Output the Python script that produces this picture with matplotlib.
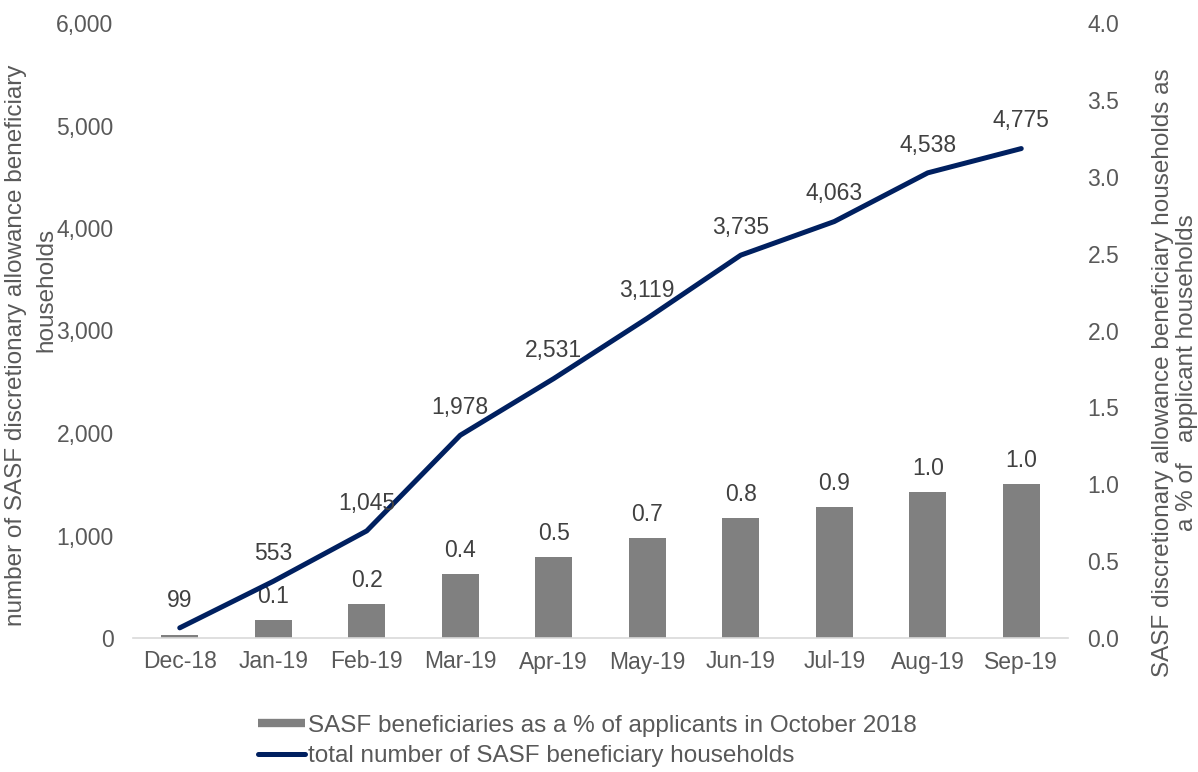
import matplotlib
matplotlib.use("Agg")
import matplotlib.pyplot as plt
from matplotlib.ticker import FuncFormatter
from matplotlib.lines import Line2D
import numpy as np

months = ["Dec-18", "Jan-19", "Feb-19", "Mar-19", "Apr-19", "May-19", "Jun-19", "Jul-19", "Aug-19", "Sep-19"]
households = [99, 553, 1045, 1978, 2531, 3119, 3735, 4063, 4538, 4775]
pct_applicants = [0.02, 0.117, 0.22, 0.415, 0.525, 0.65, 0.78, 0.85, 0.95, 1.0]
bar_labels = ["", "0.1", "0.2", "0.4", "0.5", "0.7", "0.8", "0.9", "1.0", "1.0"]

plt.rcParams['font.family'] = ['Liberation Sans', 'DejaVu Sans']
TXT = '#595959'
LBL = '#404040'
fs = 16.5
fs_big = 17.5
W, H = 1198, 772

fig = plt.figure(figsize=(W / 100, H / 100), dpi=100)
ax = fig.add_axes([133 / W, 1 - 638 / H, (1068 - 133) / W, (638 - 23) / H])
ax2 = ax.twinx()

x = np.arange(len(months))
ax2.bar(x, pct_applicants, width=0.4, color='#808080', zorder=1)
for xi, v, lab in zip(x, pct_applicants, bar_labels):
    if lab:
        ax2.annotate(lab, (xi, v), xytext=(0, 17), textcoords='offset points',
                     ha='center', va='center', fontsize=fs, color=LBL)

ax.set_zorder(ax2.get_zorder() + 1)
ax.patch.set_visible(False)
ax.plot(x, households, color='#002060', linewidth=3.6, solid_capstyle='round',
        solid_joinstyle='round')
for xi, v in zip(x, households):
    ax.annotate(f"{v:,}", (xi, v), xytext=(0, 20), textcoords='offset points',
                ha='center', va='center', fontsize=fs, color=LBL)

ax.set_xlim(-0.5, len(months) - 0.5)
ax.set_ylim(0, 6000)
ax.set_yticks(np.arange(0, 6001, 1000))
ax.yaxis.set_major_formatter(FuncFormatter(lambda v, p: f"{int(v):,}"))
ax2.set_ylim(0, 4.0)
ax2.set_yticks(np.arange(0, 4.01, 0.5))
ax2.yaxis.set_major_formatter(FuncFormatter(lambda v, p: f"{v:.1f}"))

ax.set_xticks(x)
ax.set_xticklabels(months)
for a in (ax, ax2):
    for s in a.spines.values():
        s.set_visible(False)
    a.tick_params(length=0, labelsize=fs, colors=TXT)
ax.spines['bottom'].set_visible(True)
ax.spines['bottom'].set_color('#d9d9d9')
ax.spines['bottom'].set_linewidth(1.2)
ax.tick_params(axis='y', pad=14)
ax.tick_params(axis='x', pad=9)
ax2.tick_params(axis='y', pad=14)

# axis titles
fig.text(16 / W, 1 - 345 / H, "number of SASF discretionary allowance beneficiary",
         rotation=90, ha='center', va='center', fontsize=fs_big, color=TXT)
fig.text(46 / W, 1 - 290 / H, "households",
         rotation=90, ha='center', va='center', fontsize=fs_big, color=TXT)
fig.text(1175 / W, 1 - 373 / H,
         "SASF discretionary allowance beneficiary households as\na % of   applicant households",
         rotation=90, ha='center', va='center', fontsize=fs_big, color=TXT,
         multialignment='center', linespacing=1.1)

handles = [Line2D([], [], color='#808080', linewidth=6, solid_capstyle='butt'),
           Line2D([], [], color='#002060', linewidth=3.6, solid_capstyle='round')]
labels = ['SASF beneficiaries as a % of applicants in October 2018',
          'total number of SASF beneficiary households']
fig.legend(handles, labels, loc='center left', bbox_to_anchor=(258 / W, 1 - 741 / H),
           frameon=False, fontsize=fs_big, labelcolor=TXT, handlelength=1.95,
           handletextpad=0.12, labelspacing=0.35, borderpad=0, borderaxespad=0)

fig.savefig("out.png", dpi=100)
